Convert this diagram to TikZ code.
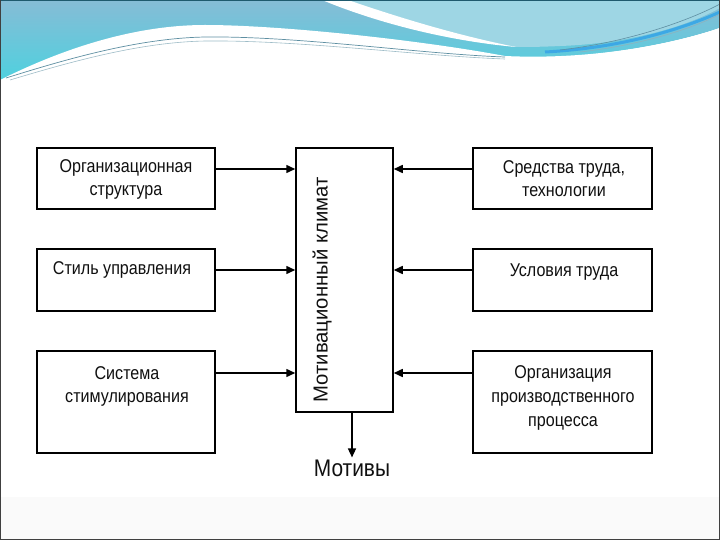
\documentclass[tikz,border=0pt]{standalone}
\usepackage{fontspec}
\setmainfont{Liberation Sans}
\newfontfamily\condfont[FakeStretch=0.87]{Liberation Sans}
\usetikzlibrary{arrows.meta}
\definecolor{steel}{HTML}{86BCD6}
\definecolor{cyanb}{HTML}{4CD2DF}
\definecolor{lightb}{HTML}{9ED6E4}
\definecolor{linec}{HTML}{5E8FA2}
\definecolor{topline}{HTML}{1F5A6E}
\definecolor{txtc}{HTML}{101010}
\tikzset{
  boxst/.style={draw=black, line width=1.5pt, rectangle, inner sep=0pt},
  txt/.style={font=\condfont\fontsize{18.5}{23}\selectfont, align=center, inner sep=0pt, text=txtc},
  arr/.style={line width=1.5pt, -{Triangle[length=9pt,width=8pt]}},
}
\begin{document}
\begin{tikzpicture}[x=1pt,y=-1pt]
\useasboundingbox (0,0) rectangle (720,540);
% background
\fill[white] (0,0) rectangle (720,540);
\fill[black!2] (0,497) rectangle (720,540);
% header base
\shade[top color=steel, bottom color=cyanb]
  (0,0) -- (720,0) -- (720,28)
  .. controls (670,45) and (590,60) .. (505,58)
  .. controls (420,55) and (300,36) .. (206,38)
  .. controls (140,40) and (70,62) .. (0,84) -- cycle;
% right light region
\fill[lightb] (338,0) -- (720,0) -- (720,8)
  .. controls (680,30) and (620,44) .. (560,46)
  .. controls (540,47) and (525,47) .. (515,47)
  .. controls (460,38) and (400,20) .. (338,0) -- cycle;
% darker stripes at right
\draw[cyanb!80!blue, line width=3pt] (545,52) .. controls (620,48) and (680,30) .. (720,12);
\draw[linec, line width=0.6pt] (560,50) .. controls (630,42) and (690,20) .. (720,4);
\draw[linec!70, line width=0.6pt] (580,52) .. controls (650,44) and (700,25) .. (720,14);
% white streak
\fill[white] (322,0) -- (348,0)
  .. controls (400,18) and (460,36) .. (516,47)
  .. controls (450,41) and (380,24) .. (322,0) -- cycle;
% white band
\fill[white] (0,80) .. controls (70,45) and (140,25) .. (205,25)
  .. controls (280,25) and (420,40) .. (505,56)
  .. controls (590,60) and (670,45) .. (720,28)
  -- (720,60) -- (0,100) -- cycle;
\fill[white] (0,84)
  .. controls (70,62) and (140,40) .. (206,38)
  .. controls (300,36) and (420,55) .. (505,58)
  .. controls (590,60) and (670,45) .. (720,28)
  -- (720,100) -- (0,100) -- cycle;
% thin lines
\draw[linec, line width=0.7pt] (6,78)
  .. controls (70,58) and (140,38) .. (206,37)
  .. controls (300,36) and (420,54) .. (505,57);
\draw[linec!60, line width=0.6pt] (10,80)
  .. controls (70,62) and (140,42) .. (206,41)
  .. controls (300,40) and (420,56) .. (505,59);
\draw[topline, line width=1.5pt] (0,0.75) -- (720,0.75);
% frame
\draw[black!75, line width=1pt] (0.5,0) -- (0.5,539.5) -- (719.5,539.5) -- (719.5,0);
% boxes
\node[boxst, minimum width=178pt, minimum height=61pt] (L1) at (126,178.5) {};
\node[boxst, minimum width=178pt, minimum height=62pt] (L2) at (126,280) {};
\node[boxst, minimum width=178pt, minimum height=102pt] (L3) at (126,402) {};
\node[boxst, minimum width=179pt, minimum height=61pt] (R1) at (562.5,178.5) {};
\node[boxst, minimum width=179pt, minimum height=62pt] (R2) at (562.5,280) {};
\node[boxst, minimum width=179pt, minimum height=102pt] (R3) at (562.5,402) {};
\node[boxst, minimum width=97pt, minimum height=264pt] (C) at (344.5,280) {};
% texts
\node[txt] (tL1) at (126,179) {Организационная\\структура};
\node[txt] (tL2) at (122,270) {Стиль управления};
\node[txt] (tL3) at (127,386) {Система\\стимулирования};
\node[txt] (tR1) at (564,179) {Средства труда,\\технологии};
\node[txt] (tR2) at (564,272) {Условия труда};
\node[txt, font=\condfont\fontsize{18.5}{24}\selectfont] (tR3) at (563,398) {Организация\\производственного\\процесса};
\node[rotate=90, inner sep=0pt, text=txtc, font=\fontsize{20.3}{24}\selectfont] (V) at (322,290) {Мотивационный климат};
\node[inner sep=2pt, text=txtc, font=\condfont\fontsize{24}{27}\selectfont] (M) at (352,468) {Мотивы};
% arrows
\coordinate (y1) at (0,169);
\coordinate (y2) at (0,270);
\coordinate (y3) at (0,373);
\draw[arr] (L1.east |- y1) -- (C.west |- y1);
\draw[arr] (L2.east |- y2) -- (C.west |- y2);
\draw[arr] (L3.east |- y3) -- (C.west |- y3);
\draw[arr] (R1.west |- y1) -- (C.east |- y1);
\draw[arr] (R2.west |- y2) -- (C.east |- y2);
\draw[arr] (R3.west |- y3) -- (C.east |- y3);
\draw[arr] (C.south -| M) -- (M.north);
\end{tikzpicture}
\end{document}
